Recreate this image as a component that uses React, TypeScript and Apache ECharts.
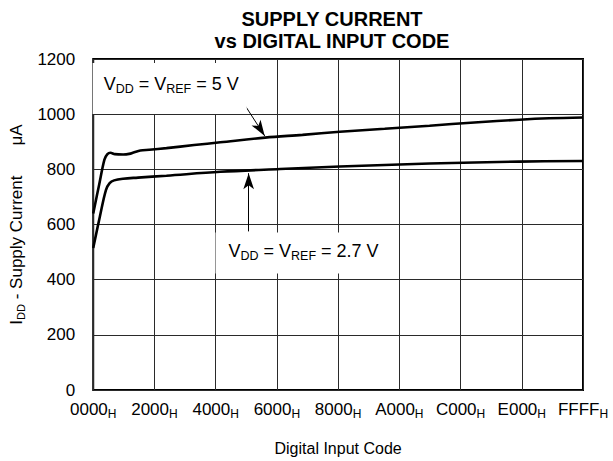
import React, { useEffect, useRef } from "react";
import * as echarts from "echarts";

const X_LABELS = ["0000", "2000", "4000", "6000", "8000", "A000", "C000", "E000", "FFFF"];
const X_STEP = 8192;
const Y_TICKS = [0, 200, 400, 600, 800, 1000, 1200];

// V_DD = V_REF = 5 V
const CODES_5V = [0, 800, 1500, 1900, 2300, 2900, 4000, 4800, 5500, 6300, 7500, 9800, 13500, 17000, 23000, 28000, 33000, 39000, 45000, 51000, 57000, 61000, 65535];
const CURRENT_5V = [640, 745, 835, 855, 860, 855, 854, 856, 862, 868, 871, 877, 888, 898, 915, 925, 936, 947, 958, 970, 980, 985, 988];

// V_DD = V_REF = 2.7 V
const CODES_27V = [0, 900, 1700, 2200, 2800, 4000, 6000, 9800, 17000, 25000, 33000, 45000, 57000, 65535];
const CURRENT_27V = [515, 630, 725, 750, 760, 766, 770, 777, 791, 801, 810, 821, 828, 830];

// annotation anchors in data units [code, µA]
const ARROW_5V = [[19500, 1066], [22950, 921]];
const ARROW_27V = [[20800, 575], [20800, 786]];
const LABEL_5V_AT = [1400, 1093];
const LABEL_27V_AT = [18100, 497];

const FONT = "'Liberation Sans', Arial, Helvetica, sans-serif";

export default function App() {
  const ref = useRef<HTMLDivElement>(null);
  useEffect(() => {
    if (!ref.current) return;
    const chart = echarts.init(ref.current, null, { renderer: "svg" });
    const sub = { fontSize: 12, fontFamily: FONT, color: "#000", padding: [9, 0, 0, 0] };
    const main = { fontSize: 17, fontFamily: FONT, color: "#000" };
    chart.setOption({
      animation: false,
      backgroundColor: "#fff",
      textStyle: { fontFamily: FONT },
      title: {
        text: "SUPPLY CURRENT\nvs DIGITAL INPUT CODE",
        left: 327,
        top: 3,
        textAlign: "center",
        textStyle: { fontSize: 20, fontWeight: "bold", color: "#000", lineHeight: 22, fontFamily: FONT },
      },
      grid: {
        left: 91,
        right: 30,
        top: 59,
        bottom: 70,
        show: true,
        borderColor: "#000",
        borderWidth: 2,
        backgroundColor: "transparent",
      },
      xAxis: {
        type: "value",
        min: 0,
        max: X_STEP * (X_LABELS.length - 1),
        interval: X_STEP,
        name: "Digital Input Code",
        nameLocation: "middle",
        nameGap: 50,
        nameTextStyle: { fontSize: 16, color: "#000", fontFamily: FONT },
        axisLine: { show: false },
        axisTick: { show: false },
        splitLine: { show: true, lineStyle: { color: "#2a2a2a", width: 1 } },
        axisLabel: {
          margin: 9,
          formatter: (v: number) => {
            const i = Math.round(v / X_STEP);
            return "{a|" + X_LABELS[i] + "}{s|H}";
          },
          rich: { a: main, s: sub },
        },
      },
      yAxis: {
        type: "value",
        min: Y_TICKS[0],
        max: Y_TICKS[Y_TICKS.length - 1],
        interval: 200,
        name: "{a|I}{s|DD}{a| - Supply Current}{u|μA}",
        nameLocation: "middle",
        nameGap: 62,
        nameTextStyle: {
          rich: {
            a: main,
            s: { ...sub, fontSize: 11 },
            u: { ...main, padding: [0, 0, 0, 30] },
          },
        },
        axisLine: { show: false },
        axisTick: { show: false },
        splitLine: { show: true, lineStyle: { color: "#2a2a2a", width: 1 } },
        axisLabel: {
          fontSize: 17,
          color: "#000",
          margin: 18,
          fontFamily: FONT,
          formatter: (v: number) => String(v),
        },
      },
      series: [
        {
          type: "line",
          name: "5V",
          data: CODES_5V.map((c, i) => [c, CURRENT_5V[i]]),
          showSymbol: false,
          smooth: 0.35,
          lineStyle: { color: "#000", width: 2.6 },
          z: 5,
          markLine: {
            silent: true,
            symbol: ["none", "arrow"],
            symbolSize: [8, 16],
            label: { show: false },
            lineStyle: { color: "#000", width: 1, type: "solid" },
            data: [
              [{ coord: ARROW_5V[0] }, { coord: ARROW_5V[1] }],
              [{ coord: ARROW_27V[0] }, { coord: ARROW_27V[1] }],
            ],
          },
        },
        {
          type: "line",
          name: "2.7V",
          data: CODES_27V.map((c, i) => [c, CURRENT_27V[i]]),
          showSymbol: false,
          smooth: 0.35,
          lineStyle: { color: "#000", width: 2.6 },
          z: 5,
        },
      ],
    });

    const p5 = chart.convertToPixel({ gridIndex: 0 }, LABEL_5V_AT) as number[];
    const p27 = chart.convertToPixel({ gridIndex: 0 }, LABEL_27V_AT) as number[];
    const labelRich = {
      v: { fontSize: 18, fontFamily: FONT, color: "#000" },
      s: { fontSize: 12.5, fontFamily: FONT, color: "#000", padding: [9, 0, 0, 0] },
    };
    chart.setOption({
      graphic: [
        {
          type: "text",
          x: p5[0] - 11,
          y: p5[1],
          z: 10,
          style: {
            text: "{v|V}{s|DD}{v| = V}{s|REF}{v| = 5 V}",
            rich: labelRich,
            align: "left",
            verticalAlign: "middle",
            backgroundColor: "#fff",
            padding: [10, 8, 19, 11],
          },
        },
        {
          type: "text",
          x: p27[0] - 13,
          y: p27[1],
          z: 10,
          style: {
            text: "{v|V}{s|DD}{v| = V}{s|REF}{v| = 2.7 V}",
            rich: labelRich,
            align: "left",
            verticalAlign: "middle",
            backgroundColor: "#fff",
            padding: [8, 18, 11, 13],
          },
        },
      ],
    });
    return () => chart.dispose();
  }, []);
  return <div ref={ref} style={{ width: 613, height: 461, position: "absolute", left: 0, top: 0 }} />;
}
